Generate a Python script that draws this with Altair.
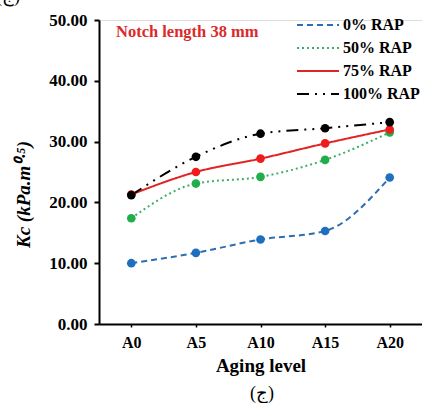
import altair as alt
import pandas as pd

levels = ["A0", "A5", "A10", "A15", "A20"]
series = ["0% RAP", "50% RAP", "75% RAP", "100% RAP"]
rap0 = [10.0, 11.7, 13.9, 15.3, 24.1]
rap50 = [17.4, 23.1, 24.2, 27.0, 31.5]
rap75 = [21.3, 25.0, 27.2, 29.7, 32.0]
rap100 = [21.2, 27.5, 31.3, 32.2, 33.2]

values = {"0% RAP": rap0, "50% RAP": rap50, "75% RAP": rap75, "100% RAP": rap100}
rows = []
for s in series:
    for lv, v in zip(levels, values[s]):
        rows.append({"level": lv, "series": s, "Kc": v})
df = pd.DataFrame(rows)

line_colors = ["#2e6db0", "#3fae6a", "#e02424", "#000000"]
point_colors = ["#1f6fc0", "#1fae4a", "#ee1c1c", "#000000"]
dashes = [[6, 4], [2, 3], [1, 0], [12, 6, 2, 6, 2, 6]]

FONT = "Liberation Serif"

x = alt.X("level:N", sort=levels, title="Aging level",
          scale=alt.Scale(paddingOuter=0.5, paddingInner=0),
          axis=alt.Axis(labelAngle=0, labelFont=FONT, labelFontWeight="bold",
                        labelFontSize=16, labelColor="black", labelPadding=7,
                        titleFont=FONT, titleFontWeight="bold", titleFontSize=19,
                        titleColor="black", titlePadding=6,
                        domainColor="black", domainWidth=2,
                        tickColor="black", tickSize=3, tickWidth=1.5,
                        grid=False))
y = alt.Y("Kc:Q", title="Kc (kPa.m⁰·⁵)",
          scale=alt.Scale(domain=[0, 50], nice=False),
          axis=alt.Axis(values=[0, 10, 20, 30, 40, 50], format=".2f",
                        labelFont=FONT, labelFontWeight="bold", labelFontSize=17,
                        labelColor="black", labelPadding=7,
                        titleFont=FONT, titleFontWeight="bold", titleFontStyle="italic",
                        titleFontSize=19, titleColor="black",
                        titleX=-76, titleY=174, titleAngle=270,
                        titleAlign="center", titleBaseline="middle",
                        domainColor="black", domainWidth=2,
                        tickColor="black", tickSize=5, tickWidth=2, grid=False))

leg = alt.Legend(title=None, orient="none", legendX=207.5, legendY=-6.5,
                 symbolType="M-2,0H2", symbolSize=441,
                 symbolStrokeWidth=2, symbolFillColor="transparent",
                 labelFont=FONT,
                 labelFontWeight="bold", labelFontSize=16,
                 labelColor="black", rowPadding=3,
                 labelOffset=13.5)

lines = alt.Chart(df).mark_line(interpolate="monotone", strokeWidth=2).encode(
    x=x, y=y,
    color=alt.Color("series:N", sort=series,
                    scale=alt.Scale(domain=series, range=line_colors), legend=leg),
    strokeDash=alt.StrokeDash("series:N", sort=series,
                              scale=alt.Scale(domain=series, range=dashes), legend=leg),
)

points = alt.Chart(df).mark_circle(size=75, opacity=1).encode(
    x=x, y=y,
    fill=alt.Fill("series:N", sort=series,
                  scale=alt.Scale(domain=series, range=point_colors), legend=None),
)

note = alt.Chart(pd.DataFrame({"t": ["Notch length 38 mm"]})).mark_text(
    font=FONT, fontWeight="bold", fontSize=16.5, color="#d92b2b", align="left",
    baseline="middle").encode(text="t:N", x=alt.value(17), y=alt.value(12))

caption = alt.Chart(pd.DataFrame({"t": ["(ج)"]})).mark_text(
    font=FONT, fontSize=18, color="black", align="center",
    baseline="middle").encode(text="t:N", x=alt.value(163), y=alt.value(374))

corner = alt.Chart(pd.DataFrame({"t": ["(ج)"]})).mark_text(
    font=FONT, fontSize=18, color="black", align="center",
    baseline="bottom").encode(text="t:N", x=alt.value(-91), y=alt.value(-14))

chart = alt.layer(lines, points, note, caption, corner).properties(
    width=323, height=304,
    autosize=alt.AutoSizeParams(type="none"),
    padding={"left": 99, "top": 20, "right": 0, "bottom": 79},
).configure_view(stroke=None).configure(background="white")

chart.save("out.html", embed_options={"renderer": "svg", "actions": False})
